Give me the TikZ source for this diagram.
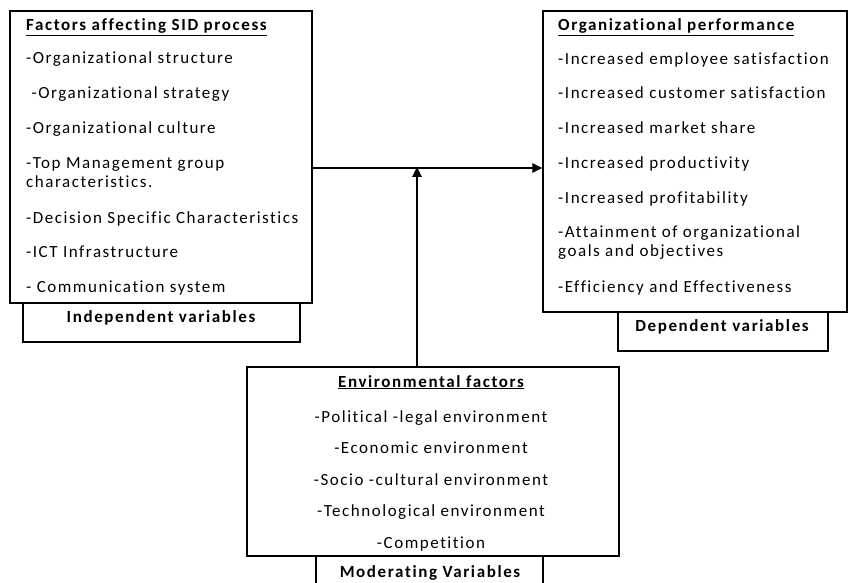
\documentclass[tikz,border=0pt]{standalone}
\usepackage{fontspec}
\setmainfont{Carlito}[LetterSpace=9,Ligatures={NoCommon}]
\usetikzlibrary{arrows.meta}
\begin{document}
\begin{tikzpicture}[x=1pt,y=-1pt,
  box/.style={draw,line width=1.1pt,rectangle,inner sep=0pt},
  itm/.style={anchor=base west,inner sep=0pt,font=\fontsize{17}{19}\selectfont},
  ctr/.style={anchor=base,inner sep=0pt,font=\fontsize{17}{19}\selectfont},
  ttl/.style={inner sep=0pt,font=\fontsize{17}{19}\selectfont\bfseries\addfontfeatures{LetterSpace=9.5}},
  arr/.style={line width=2.4pt,-{Triangle[length=10pt,width=9pt]}}
]
\useasboundingbox (0,0) rectangle (848,583);
% boxes
\node[box,minimum width=302pt,minimum height=292pt] (L) at (161,157) {};
\node[box,minimum width=277pt,minimum height=39pt] (Lb) at (161.5,322.5) {};
\node[box,minimum width=304pt,minimum height=301pt] (R) at (695,161.5) {};
\node[box,minimum width=210pt,minimum height=39pt] (Rb) at (723,331.5) {};
\node[box,minimum width=372pt,minimum height=189pt] (B) at (433,461.5) {};
\node[box,minimum width=227pt,minimum height=32pt] (Bb) at (429.5,572) {};
% left texts
\node[ttl,anchor=base west] (lt0) at (26,31) {\underline{Factors affecting SID process}};
\node[itm] (lt1) at (26,64) {-Organizational structure};
\node[itm] (lt2) at (26,99) {\ -Organizational strategy};
\node[itm] (lt3) at (26,133) {-Organizational culture};
\node[itm] (lt4) at (26,168) {-Top Management group};
\node[itm] (lt4b) at (26,187) {characteristics.};
\node[itm] (lt5) at (26,223) {-Decision Specific Characteristics};
\node[itm] (lt6) at (26,257) {-ICT Infrastructure};
\node[itm] (lt7) at (26,292) {- Communication system};
\node[ttl,anchor=base] (lbt) at (161,322) {Independent variables};
% right texts
\node[ttl,anchor=base west] (rt0) at (558,31) {\underline{Organizational performance}};
\node[itm] (rt1) at (558,65) {-Increased employee satisfaction};
\node[itm] (rt2) at (558,99) {-Increased customer satisfaction};
\node[itm] (rt3) at (558,134) {-Increased market share};
\node[itm] (rt4) at (558,168) {-Increased productivity};
\node[itm] (rt5) at (558,203) {-Increased profitability};
\node[itm] (rt6) at (558,237) {-Attainment of organizational};
\node[itm] (rt6b) at (558,256) {goals and objectives};
\node[itm] (rt7) at (558,292) {-Efficiency and Effectiveness};
\node[ttl,anchor=base] (rbt) at (722,331) {Dependent variables};
% bottom texts
\node[ttl,anchor=base] (bt0) at (431,387) {\underline{Environmental factors}};
\node[ctr] (bt1) at (431,422) {-Political -legal environment};
\node[ctr] (bt2) at (431,453) {-Economic environment};
\node[ctr] (bt3) at (431,485) {-Socio -cultural environment};
\node[ctr] (bt4) at (431,516) {-Technological environment};
\node[ctr] (bt5) at (431,548) {-Competition};
\node[ttl,anchor=base] (bbt) at (430,577) {Moderating Variables};
% connectors
\coordinate (J) at (417,168);
\draw[arr] (L.east |- J) -- (R.west |- J);
\draw[arr] (B.north -| J) -- ([yshift=1.2pt]J);
\end{tikzpicture}
\end{document}
